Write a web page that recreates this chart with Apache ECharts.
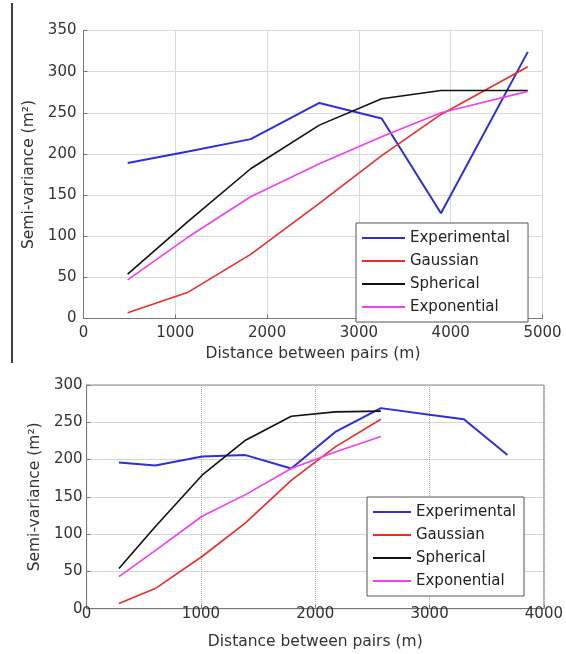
<!DOCTYPE html>
<html>
<head>
<meta charset="utf-8">
<script src="https://cdn.jsdelivr.net/npm/echarts@6/dist/echarts.min.js"></script>
<style>
html,body{margin:0;padding:0;background:#fff;}
#c{width:566px;height:654px;}
</style>
</head>
<body>
<div id="c"></div>
<script>
// ---- Top chart data ----
const seriesNames = ['Experimental', 'Gaussian', 'Spherical', 'Exponential'];
const topDistance = [481, 1140, 1821, 2569, 3248, 3894, 4840];
const topExperimental = [189, 203, 218, 262, 243, 128, 324];
const topGaussian = [7, 32, 78, 140, 198, 248, 306];
const topSpherical = [54, 118, 182, 235, 267, 277, 277];
const topExponential = [47, 99, 148, 188, 221, 250, 276];

// ---- Bottom chart data ----
const botDistanceExp = [283, 600, 1010, 1390, 1790, 2175, 2574, 3000, 3300, 3681];
const botExperimental = [196, 192, 204, 206, 188, 237, 269, 260, 254, 206];
const botDistanceModel = [283, 600, 1010, 1390, 1790, 2175, 2574];
const botGaussian = [7, 27, 70, 115, 172, 217, 254];
const botSpherical = [54, 110, 179, 226, 258, 264, 265];
const botExponential = [43, 78, 124, 153, 188, 210, 231];

const topXTicks = [0, 5000, 1000];
const topYTicks = [0, 350, 50];
const botXTicks = [0, 4000, 1000];
const botYTicks = [0, 300, 50];

const colors = {Experimental: '#2f2fd6', Gaussian: '#ee2b2b', Spherical: '#111111', Exponential: '#f040f0'};
const widths = {Experimental: 2, Gaussian: 1.6, Spherical: 1.6, Exponential: 1.6};

function pairs(xs, ys) { return xs.map((x, i) => [x, ys[i]]); }

const FONT = 'DejaVu Sans';
const lblColor = '#333';
const plain = v => String(v);

function mkX(idx, ticks, margin, gap, gridStyle) {
  return {
    type: 'value', gridIndex: idx, min: ticks[0], max: ticks[1], interval: ticks[2],
    name: 'Distance between pairs (m)', nameLocation: 'middle', nameGap: gap,
    nameTextStyle: {fontFamily: FONT, fontSize: 15.5, color: lblColor},
    axisLine: {show: true, lineStyle: {color: '#777', width: 1}},
    axisTick: {show: true, inside: true, length: 4, lineStyle: {color: '#777'}},
    axisLabel: {fontFamily: FONT, fontSize: 15, color: lblColor, margin: margin, formatter: plain},
    splitLine: {show: true, lineStyle: gridStyle}
  };
}
function mkY(idx, ticks, margin, gap, gridStyle) {
  return {
    type: 'value', gridIndex: idx, min: ticks[0], max: ticks[1], interval: ticks[2],
    name: 'Semi-variance (m²)', nameLocation: 'middle', nameGap: gap, nameRotate: 90,
    nameTextStyle: {fontFamily: FONT, fontSize: 15.5, color: lblColor},
    axisLine: {show: true, lineStyle: {color: '#777', width: 1}},
    axisTick: {show: true, inside: true, length: 4, lineStyle: {color: '#777'}},
    axisLabel: {fontFamily: FONT, fontSize: 15, color: lblColor, margin: margin, formatter: plain},
    splitLine: {show: true, lineStyle: gridStyle}
  };
}

const topData = {
  Experimental: pairs(topDistance, topExperimental),
  Gaussian: pairs(topDistance, topGaussian),
  Spherical: pairs(topDistance, topSpherical),
  Exponential: pairs(topDistance, topExponential)
};
const botData = {
  Experimental: pairs(botDistanceExp, botExperimental),
  Gaussian: pairs(botDistanceModel, botGaussian),
  Spherical: pairs(botDistanceModel, botSpherical),
  Exponential: pairs(botDistanceModel, botExponential)
};

const series = [];
seriesNames.forEach(n => {
  series.push({name: n, type: 'line', xAxisIndex: 0, yAxisIndex: 0, data: topData[n],
    symbol: 'none', lineStyle: {color: colors[n], width: widths[n]}, itemStyle: {color: colors[n]}});
});
seriesNames.forEach(n => {
  series.push({name: n, type: 'line', xAxisIndex: 1, yAxisIndex: 1, data: botData[n],
    symbol: 'none', lineStyle: {color: colors[n], width: widths[n]}, itemStyle: {color: colors[n]}});
});

function mkLegend(left, top, itemWidth, pad) {
  return {
    orient: 'vertical', left: left, top: top, data: seriesNames,
    icon: 'rect', itemWidth: itemWidth, itemHeight: 2, itemGap: 7,
    padding: pad, backgroundColor: '#fff', borderColor: '#555', borderWidth: 1,
    selectedMode: false,
    textStyle: {fontFamily: FONT, fontSize: 15, color: '#222', lineHeight: 16, padding: [0, 0, 0, 0]}
  };
}

const chart = echarts.init(document.getElementById('c'), null, {renderer: 'canvas'});
chart.setOption({
  animation: false,
  backgroundColor: '#fff',
  grid: [
    {left: 83.5, top: 30.5, width: 459, height: 288, show: true, borderColor: '#888', borderWidth: 1, backgroundColor: 'transparent'},
    {left: 86.6, top: 385, width: 461, height: 223.7, show: true, borderColor: '#888', borderWidth: 1, backgroundColor: 'transparent'}
  ],
  xAxis: [
    mkX(0, topXTicks, 7, 27, {color: '#dadada', width: 1, type: 'solid'}),
    mkX(1, botXTicks, -2, 25, {color: '#aaa', width: 1, type: 'dotted'})
  ],
  yAxis: [
    mkY(0, topYTicks, 7, 46, {color: '#dadada', width: 1, type: 'solid'}),
    mkY(1, botYTicks, 4, 41, {color: '#aaa', width: 1, type: 'dotted'})
  ],
  legend: [
    mkLegend(356, 223, 43, [7, 18, 7, 6]),
    mkLegend(367, 497, 38, [7, 8, 7, 6])
  ],
  graphic: [
    {type: 'line', shape: {x1: 12, y1: 3, x2: 12, y2: 363}, style: {stroke: '#000', lineWidth: 1.5}}
  ],
  series: series
});
</script>
</body>
</html>
